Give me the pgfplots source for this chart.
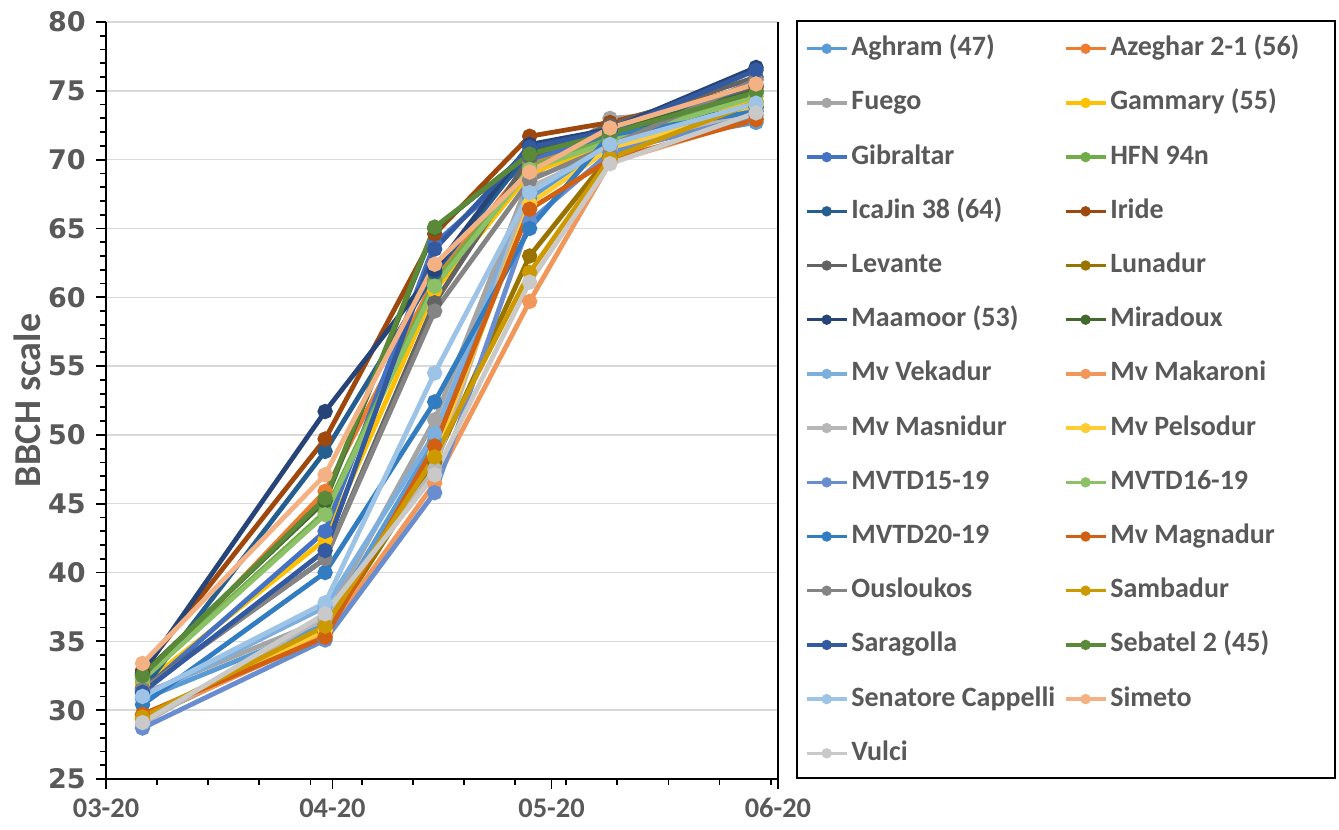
\documentclass[border=0pt]{standalone}
\usepackage{pgfplots}
\pgfplotsset{compat=1.18}
\usepackage{fontspec}
\setmainfont{Carlito}
\newfontfamily\dejavu{DejaVu Sans}
\definecolor{txt}{HTML}{595959}
\definecolor{gridc}{HTML}{D9D9D9}
\definecolor{c01}{HTML}{5B9BD5}
\definecolor{c02}{HTML}{ED7D31}
\definecolor{c03}{HTML}{A5A5A5}
\definecolor{c04}{HTML}{FFC000}
\definecolor{c05}{HTML}{4472C4}
\definecolor{c06}{HTML}{70AD47}
\definecolor{c07}{HTML}{255E91}
\definecolor{c08}{HTML}{9E480E}
\definecolor{c09}{HTML}{636363}
\definecolor{c10}{HTML}{997300}
\definecolor{c11}{HTML}{264478}
\definecolor{c12}{HTML}{43682B}
\definecolor{c13}{HTML}{7CAFDD}
\definecolor{c14}{HTML}{F1975A}
\definecolor{c15}{HTML}{B7B7B7}
\definecolor{c16}{HTML}{FFCD33}
\definecolor{c17}{HTML}{698ED0}
\definecolor{c18}{HTML}{8CC168}
\definecolor{c19}{HTML}{327DC2}
\definecolor{c20}{HTML}{D26012}
\definecolor{c21}{HTML}{848484}
\definecolor{c22}{HTML}{CC9A00}
\definecolor{c23}{HTML}{335AA1}
\definecolor{c24}{HTML}{5A8A39}
\definecolor{c25}{HTML}{9DC3E6}
\definecolor{c26}{HTML}{F4B183}
\definecolor{c27}{HTML}{C9C9C9}
\begin{document}
\begin{tikzpicture}
\useasboundingbox (0,0) rectangle (669.5pt,415pt);
\begin{axis}[
  at={(53pt,25.5pt)}, anchor=south west,
  scale only axis, width=336pt, height=378.5pt,
  xmin=0, xmax=92, ymin=25, ymax=80,
  axis x line=bottom, axis y line=left,
  axis line style={-, black, line width=1pt},
  xtick={0,31,61,92}, xticklabels={03-20,04-20,05-20,06-20},
  minor xtick={7,14,21,28,35,42,49,56,63,70,77,84,91},
  ytick={25,30,...,80}, minor y tick num=4,
  tick align=outside,
  major tick length=5pt, minor tick length=3pt,
  tick style={black, line width=0.9pt},
  ymajorgrids, major grid style={gridc, line width=0.75pt},
  xticklabel style={font=\fontsize{14.2}{16}\selectfont\bfseries, text=txt, inner sep=0pt, yshift=-4.5pt},
  yticklabel style={font=\dejavu\bfseries\fontsize{13.5}{16}\selectfont, text=txt, inner sep=0pt, xshift=-5pt},
  /pgf/number format/assume math mode=true,
  ylabel={BBCH scale},
  ylabel style={font=\fontsize{19}{22}\selectfont\bfseries, text=txt, at={(axis description cs:-0.1176,0.5)}, anchor=center},
  every axis plot/.append style={line width=2.4pt, mark=*, mark size=2.6pt, mark options={solid}},
  legend columns=2,
  legend cell align=left,
  legend style={draw=none, fill=none, inner sep=0pt, outer sep=0pt,
    at={(axis description cs:1.0402,0.9819)}, anchor=north west,
    font=\fontsize{14}{16}\selectfont\bfseries, text=txt,
    row sep=14.1pt, column sep=1.5pt,
    nodes={inner sep=0pt, text height=10pt, text depth=3pt},
    /tikz/every even column/.append style={column sep=4.3pt}},
  legend image code/.code={\draw[#1, line width=1.7pt, mark size=1.7pt, mark repeat=2, mark phase=2] plot coordinates {(0pt,0pt) (10pt,0pt) (20pt,0pt)};},
]
\addplot[color=c01] coordinates {(5,30.8) (30,36.2) (45,49.6) (58,67.2) (69,70.9) (89,72.7)};
\addlegendentry{Aghram (47)}
\addplot[color=c02] coordinates {(5,32.0) (30,45.9) (45,61.3) (58,69.8) (69,71.7) (89,75.2)};
\addlegendentry{Azeghar 2-1 (56)}
\addplot[color=c03] coordinates {(5,31.2) (30,36.6) (45,51.1) (58,68.6) (69,73.0) (89,73.8)};
\addlegendentry{Fuego}
\addplot[color=c04] coordinates {(5,31.8) (30,42.4) (45,60.5) (58,69.0) (69,71.2) (89,74.3)};
\addlegendentry{Gammary (55)}
\addplot[color=c05] coordinates {(5,31.4) (30,43.0) (45,63.9) (58,70.0) (69,71.8) (89,75.3)};
\addlegendentry{Gibraltar}
\addplot[color=c06] coordinates {(5,32.3) (30,44.4) (45,61.1) (58,69.5) (69,71.5) (89,74.8)};
\addlegendentry{HFN 94n}
\addplot[color=c07] coordinates {(5,31.5) (30,48.8) (45,61.8) (58,70.6) (69,72.0) (89,73.8)};
\addlegendentry{IcaJin 38 (64)}
\addplot[color=c08] coordinates {(5,32.9) (30,49.7) (45,64.6) (58,71.7) (69,72.7) (89,75.4)};
\addlegendentry{Iride}
\addplot[color=c09] coordinates {(5,31.6) (30,41.0) (45,59.6) (58,70.2) (69,72.5) (89,76.0)};
\addlegendentry{Levante}
\addplot[color=c10] coordinates {(5,29.3) (30,35.6) (45,48.0) (58,63.0) (69,70.3) (89,74.0)};
\addlegendentry{Lunadur}
\addplot[color=c11] coordinates {(5,32.7) (30,51.7) (45,62.0) (58,71.1) (69,72.2) (89,76.7)};
\addlegendentry{Maamoor (53)}
\addplot[color=c12] coordinates {(5,32.6) (30,45.2) (45,65.0) (58,70.5) (69,72.0) (89,75.0)};
\addlegendentry{Miradoux}
\addplot[color=c13] coordinates {(5,30.9) (30,37.5) (45,50.1) (58,67.8) (69,71.0) (89,74.0)};
\addlegendentry{Mv Vekadur}
\addplot[color=c14] coordinates {(5,29.4) (30,35.4) (45,46.5) (58,59.7) (69,69.8) (89,73.0)};
\addlegendentry{Mv Makaroni}
\addplot[color=c15] coordinates {(5,29.0) (30,36.8) (45,47.5) (58,68.0) (69,70.6) (89,73.6)};
\addlegendentry{Mv Masnidur}
\addplot[color=c16] coordinates {(5,29.6) (30,35.8) (45,48.6) (58,66.8) (69,70.8) (89,74.0)};
\addlegendentry{Mv Pelsodur}
\addplot[color=c17] coordinates {(5,28.7) (30,35.1) (45,45.8) (58,65.5) (69,70.5) (89,73.2)};
\addlegendentry{MVTD15-19}
\addplot[color=c18] coordinates {(5,32.2) (30,44.2) (45,60.8) (58,69.3) (69,71.3) (89,74.6)};
\addlegendentry{MVTD16-19}
\addplot[color=c19] coordinates {(5,30.4) (30,40.0) (45,52.4) (58,65.0) (69,71.8) (89,73.5)};
\addlegendentry{MVTD20-19}
\addplot[color=c20] coordinates {(5,29.7) (30,35.3) (45,49.2) (58,66.4) (69,70.0) (89,72.9)};
\addlegendentry{Mv Magnadur}
\addplot[color=c21] coordinates {(5,31.5) (30,41.0) (45,59.0) (58,68.5) (69,71.0) (89,75.8)};
\addlegendentry{Ousloukos}
\addplot[color=c22] coordinates {(5,29.5) (30,36.1) (45,48.4) (58,61.8) (69,70.1) (89,74.2)};
\addlegendentry{Sambadur}
\addplot[color=c23] coordinates {(5,31.3) (30,41.6) (45,63.5) (58,70.9) (69,72.1) (89,76.5)};
\addlegendentry{Saragolla}
\addplot[color=c24] coordinates {(5,32.5) (30,45.4) (45,65.1) (58,70.4) (69,71.9) (89,74.9)};
\addlegendentry{Sebatel 2 (45)}
\addplot[color=c25] coordinates {(5,31.0) (30,37.8) (45,54.5) (58,67.6) (69,71.1) (89,74.1)};
\addlegendentry{Senatore Cappelli}
\addplot[color=c26] coordinates {(5,33.4) (30,47.1) (45,62.4) (58,69.1) (69,72.3) (89,75.5)};
\addlegendentry{Simeto}
\addplot[color=c27] coordinates {(5,29.1) (30,37.0) (45,47.1) (58,61.1) (69,69.7) (89,73.4)};
\addlegendentry{Vulci}
\end{axis}
\draw[black, line width=1pt] (389pt,25.5pt) -- (389pt,404pt);
\draw[black, line width=1pt] (398.5pt,26pt) rectangle (667.5pt,404.5pt);
\end{tikzpicture}
\end{document}
